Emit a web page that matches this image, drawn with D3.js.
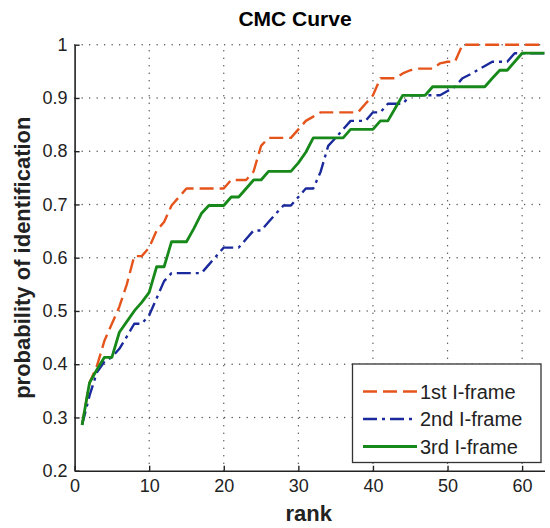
<!DOCTYPE html>
<html>
<head>
<meta charset="utf-8">
<script src="https://cdn.jsdelivr.net/npm/d3@7"></script>
<style>
  body { margin: 0; background: #fff; }
  svg { display: block; font-family: "Liberation Sans", Arial, sans-serif; }
</style>
</head>
<body>
<div id="chart"></div>
<script>
// ranks 1..63
const ranks = d3.range(1, 64);

const frame1 = [0.286, 0.365, 0.397, 0.444, 0.476, 0.508, 0.550, 0.603, 0.603, 0.619,
  0.651, 0.667, 0.698, 0.714, 0.730, 0.730, 0.730, 0.730, 0.730, 0.730,
  0.746, 0.746, 0.746, 0.762, 0.810, 0.825, 0.825, 0.825, 0.825, 0.841,
  0.857, 0.865, 0.873, 0.873, 0.873, 0.873, 0.873, 0.873, 0.889, 0.905,
  0.937, 0.937, 0.937, 0.946, 0.952, 0.955, 0.955, 0.955, 0.965, 0.968,
  0.968, 1, 1, 1, 1, 1, 1, 1, 1, 1,
  1, 1, 1];

const frame2 = [0.286, 0.341, 0.385, 0.405, 0.413, 0.429, 0.452, 0.476, 0.476, 0.492,
  0.524, 0.556, 0.571, 0.571, 0.571, 0.571, 0.571, 0.587, 0.603, 0.619,
  0.619, 0.619, 0.635, 0.651, 0.651, 0.667, 0.683, 0.698, 0.698, 0.714,
  0.730, 0.730, 0.762, 0.810, 0.825, 0.841, 0.857, 0.857, 0.857, 0.873,
  0.873, 0.889, 0.889, 0.889, 0.905, 0.905, 0.905, 0.905, 0.905, 0.913,
  0.921, 0.937, 0.944, 0.952, 0.960, 0.968, 0.968, 0.968, 0.984, 0.984,
  0.984, 0.984, 0.984];

const frame3 = [0.286, 0.365, 0.390, 0.413, 0.413, 0.460, 0.480, 0.500, 0.516, 0.535,
  0.583, 0.583, 0.630, 0.630, 0.630, 0.655, 0.683, 0.698, 0.698, 0.698,
  0.714, 0.714, 0.730, 0.746, 0.746, 0.762, 0.762, 0.762, 0.762, 0.778,
  0.798, 0.825, 0.825, 0.825, 0.825, 0.825, 0.841, 0.841, 0.841, 0.841,
  0.857, 0.857, 0.881, 0.905, 0.905, 0.905, 0.905, 0.921, 0.921, 0.921,
  0.921, 0.921, 0.921, 0.921, 0.921, 0.937, 0.952, 0.952, 0.968, 0.984,
  0.984, 0.984, 0.984];

const seriesNames = ["1st I-frame", "2nd I-frame", "3rd I-frame"];
const xTicks = [0, 10, 20, 30, 40, 50, 60];
const yTicks = [0.2, 0.3, 0.4, 0.5, 0.6, 0.7, 0.8, 0.9, 1];

const W = 550, H = 528;
const PLOT = { LEFT: 74.6, RIGHT: 544.5, TOP: 44.7, BOTTOM: 470.7 };

const svg = d3.select("#chart").append("svg")
  .attr("width", W)
  .attr("height", H);

const x = d3.scaleLinear().domain([0, 63]).range([PLOT.LEFT, PLOT.RIGHT]);
const y = d3.scaleLinear().domain([0.2, 1]).range([PLOT.BOTTOM, PLOT.TOP]);

// grid (dotted)
const grid = svg.append("g").attr("class", "grid");
grid.selectAll("line.gx")
  .data(xTicks.filter(d => d > 0))
  .join("line")
  .attr("x1", d => x(d)).attr("x2", d => x(d))
  .attr("y1", PLOT.BOTTOM).attr("y2", PLOT.TOP)
  .attr("stroke", "#555")
  .attr("stroke-width", 1.4)
  .attr("stroke-linecap", "round")
  .attr("stroke-dasharray", "0.1,7.4");
grid.selectAll("line.gy")
  .data(yTicks.filter(d => d > 0.2))
  .join("line")
  .attr("x1", PLOT.LEFT).attr("x2", PLOT.RIGHT)
  .attr("y1", d => y(d)).attr("y2", d => y(d))
  .attr("stroke", "#555")
  .attr("stroke-width", 1.4)
  .attr("stroke-linecap", "round")
  .attr("stroke-dasharray", "0.1,7.4");

// axes, ticks pointing inward
const xAxis = svg.append("g")
  .attr("transform", `translate(0,${PLOT.BOTTOM})`)
  .call(d3.axisBottom(x).tickValues(xTicks).tickSizeInner(-5).tickSizeOuter(0).tickPadding(9));
const yAxis = svg.append("g")
  .attr("transform", `translate(${PLOT.LEFT},0)`)
  .call(d3.axisLeft(y).tickValues(yTicks).tickFormat(d => d === 1 ? "1" : d3.format(".1f")(d))
    .tickSizeInner(-5).tickSizeOuter(0).tickPadding(7));

[xAxis, yAxis].forEach(a => {
  a.select(".domain").attr("stroke", "#222").attr("stroke-width", 1.6);
  a.selectAll(".tick line").attr("stroke", "#222").attr("stroke-width", 1.4);
  a.selectAll(".tick text")
    .attr("fill", "#222")
    .style("font-size", "18px")
    .style("font-family", "'Liberation Sans', Arial, sans-serif");
});
xAxis.selectAll(".tick text").attr("dy", "0.71em");

// curves
const styles = [
  { color: "#e5541b", dash: "14,6", width: 2.4 },
  { color: "#1a2a9c", dash: "14,5,3,5", width: 2.4 },
  { color: "#17891a", dash: null, width: 2.8 }
];
const allSeries = [frame1, frame2, frame3];

const line = d3.line()
  .x(d => x(d[0]))
  .y(d => y(d[1]));

allSeries.forEach((vals, i) => {
  svg.append("path")
    .datum(ranks.map((r, j) => [r, vals[j]]))
    .attr("d", line)
    .attr("fill", "none")
    .attr("stroke", styles[i].color)
    .attr("stroke-width", styles[i].width)
    .attr("stroke-linejoin", "round")
    .attr("stroke-dasharray", styles[i].dash);
});

// title + labels
svg.append("text")
  .attr("x", 295).attr("y", 26)
  .attr("text-anchor", "middle")
  .style("font-size", "21px")
  .style("font-weight", "bold")
  .text("CMC Curve");

svg.append("text")
  .attr("x", (PLOT.LEFT + 543) / 2).attr("y", 521)
  .attr("text-anchor", "middle")
  .style("font-size", "22px")
  .style("font-weight", "bold")
  .attr("fill", "#222")
  .text("rank");

svg.append("text")
  .attr("transform", `translate(30,${(PLOT.TOP + PLOT.BOTTOM) / 2}) rotate(-90)`)
  .attr("text-anchor", "middle")
  .style("font-size", "22px")
  .style("font-weight", "bold")
  .attr("fill", "#222")
  .text("probability of identification");

// legend
const lg = svg.append("g").attr("class", "legend");
lg.append("rect")
  .attr("x", 352.5).attr("y", 364)
  .attr("width", 188.5).attr("height", 98.5)
  .attr("fill", "#fff")
  .attr("stroke", "#333")
  .attr("stroke-width", 1.3);

seriesNames.forEach((name, i) => {
  const cy = 391.5 + i * 27.5;
  lg.append("line")
    .attr("x1", 363).attr("x2", 417)
    .attr("y1", cy).attr("y2", cy)
    .attr("stroke", styles[i].color)
    .attr("stroke-width", styles[i].width)
    .attr("stroke-dasharray", styles[i].dash);
  lg.append("text")
    .attr("x", 420).attr("y", cy)
    .attr("dy", "0.35em")
    .style("font-size", "20px")
    .attr("fill", "#222")
    .text(name);
});
</script>
</body>
</html>
